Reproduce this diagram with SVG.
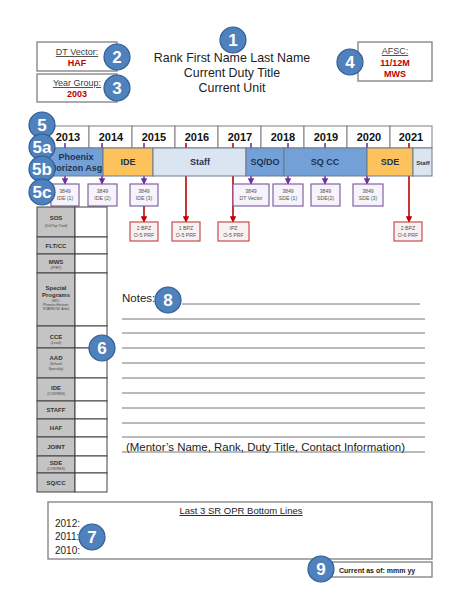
<svg xmlns="http://www.w3.org/2000/svg" width="474" height="613" viewBox="0 0 474 613">
<style>
.badge circle{fill:#4f81bd;stroke:#2f5d93;stroke-width:1.2}
.badge text{fill:#fff;font-family:"Liberation Sans",Arial,sans-serif;font-weight:bold;font-size:17px;text-anchor:middle}
.hdr{font-family:"Liberation Sans",Arial,sans-serif;fill:#222;font-size:12.4px;text-anchor:middle}
.ibox{fill:#fff;stroke:#7f7f7f;stroke-width:1.3}
.lbl{font-family:"Liberation Sans",Arial,sans-serif;fill:#404040;font-size:9px;text-anchor:middle;text-decoration:underline}
.val{font-family:"Liberation Sans",Arial,sans-serif;fill:#c00000;font-size:9px;font-weight:bold;text-anchor:middle}
.yr{font-family:"Liberation Sans",Arial,sans-serif;font-weight:bold;font-size:11px;fill:#111;text-anchor:middle}
.yrcell{fill:#fff;stroke:#7f7f7f;stroke-width:1}
.seg{stroke:#6b7b8c;stroke-width:1}
.segt{font-family:"Liberation Sans",Arial,sans-serif;font-weight:bold;font-size:9px;fill:#1f3350;text-anchor:middle}
.pbox{fill:#f6f3fa;stroke:#8064a2;stroke-width:1.2}
.rbox{fill:#faf0f0;stroke:#c0504d;stroke-width:1.2}
.bt{font-family:"Liberation Sans",Arial,sans-serif;font-size:5.2px;fill:#555;text-anchor:middle}
.pl{stroke:#7030a0;stroke-width:1.6;fill:none}
.rl{stroke:#c00000;stroke-width:1.6;fill:none}
.gc{fill:#c4c4c4;stroke:#404040;stroke-width:1}
.wc{fill:#fff;stroke:#404040;stroke-width:1}
.tl{font-family:"Liberation Sans",Arial,sans-serif;font-weight:bold;font-size:6px;fill:#333;text-anchor:middle}
.ts{font-family:"Liberation Sans",Arial,sans-serif;font-size:3.4px;fill:#444;text-anchor:middle}
.nl{stroke:#777;stroke-width:1}
.body{font-family:"Liberation Sans",Arial,sans-serif;fill:#222;font-size:11px}
</style>
<defs>
<marker id="ap" viewBox="0 0 10 10" refX="9" refY="5" markerWidth="4" markerHeight="4" orient="auto"><path d="M0,0 L10,5 L0,10 z" fill="#7030a0"/></marker>
<marker id="ar" viewBox="0 0 10 10" refX="9" refY="5" markerWidth="4" markerHeight="4" orient="auto"><path d="M0,0 L10,5 L0,10 z" fill="#c00000"/></marker>
</defs>
<rect width="474" height="613" fill="#fff"/>

<g id="header">
<text class="hdr" x="232" y="62">Rank First Name Last Name</text>
<text class="hdr" x="232" y="77">Current Duty Title</text>
<text class="hdr" x="232" y="92">Current Unit</text>
</g>

<g id="dt-vector">
<rect class="ibox" x="37" y="42" width="80" height="29"/>
<text class="lbl" x="77" y="55">DT Vector:</text>
<text class="val" x="77" y="66">HAF</text>
</g>
<g id="year-group">
<rect class="ibox" x="37" y="74" width="80" height="28"/>
<text class="lbl" x="77" y="86">Year Group:</text>
<text class="val" x="77" y="97">2003</text>
</g>
<g id="afsc">
<rect class="ibox" x="358" y="42" width="74" height="39"/>
<text class="lbl" x="395" y="54">AFSC:</text>
<text class="val" x="395" y="66">11/12M</text>
<text class="val" x="395" y="77">MWS</text>
</g>

<g id="years">
<rect class="yrcell" x="46" y="126" width="43" height="22"/>
<rect class="yrcell" x="89" y="126" width="43" height="22"/>
<rect class="yrcell" x="132" y="126" width="43" height="22"/>
<rect class="yrcell" x="175" y="126" width="43" height="22"/>
<rect class="yrcell" x="218" y="126" width="43" height="22"/>
<rect class="yrcell" x="261" y="126" width="43" height="22"/>
<rect class="yrcell" x="304" y="126" width="43" height="22"/>
<rect class="yrcell" x="347" y="126" width="43" height="22"/>
<rect class="yrcell" x="390" y="126" width="42" height="22"/>
<text class="yr" x="68" y="141">2013</text>
<text class="yr" x="111" y="141">2014</text>
<text class="yr" x="154" y="141">2015</text>
<text class="yr" x="197" y="141">2016</text>
<text class="yr" x="240" y="141">2017</text>
<text class="yr" x="283" y="141">2018</text>
<text class="yr" x="326" y="141">2019</text>
<text class="yr" x="369" y="141">2020</text>
<text class="yr" x="411" y="141">2021</text>
</g>

<g id="connectors">
<line class="pl" x1="65" y1="143" x2="65" y2="184" marker-end="url(#ap)"/>
<line class="pl" x1="102" y1="143" x2="102" y2="184" marker-end="url(#ap)"/>
<line class="pl" x1="144" y1="143" x2="144" y2="184" marker-end="url(#ap)"/>
<line class="pl" x1="251" y1="143" x2="251" y2="184" marker-end="url(#ap)"/>
<line class="pl" x1="288" y1="143" x2="288" y2="184" marker-end="url(#ap)"/>
<line class="pl" x1="325" y1="143" x2="325" y2="184" marker-end="url(#ap)"/>
<line class="pl" x1="367" y1="143" x2="367" y2="184" marker-end="url(#ap)"/>
<line class="rl" x1="144" y1="206" x2="144" y2="222" marker-end="url(#ar)"/>
<line class="rl" x1="186" y1="143" x2="186" y2="222" marker-end="url(#ar)"/>
<line class="rl" x1="233" y1="143" x2="233" y2="222" marker-end="url(#ar)"/>
<line class="rl" x1="409" y1="143" x2="409" y2="222" marker-end="url(#ar)"/>
</g>

<g id="assignments">
<rect class="seg" x="46" y="148" width="57" height="28" fill="#74a0d8"/>
<rect class="seg" x="103" y="148" width="50" height="28" fill="#fcc35c" stroke="#8a6d2f"/>
<rect class="seg" x="153" y="148" width="93" height="28" fill="#dbe5f2"/>
<rect class="seg" x="246" y="148" width="38" height="28" fill="#74a0d8"/>
<rect class="seg" x="284" y="148" width="83" height="28" fill="#74a0d8"/>
<rect class="seg" x="367" y="148" width="46" height="28" fill="#fcc35c" stroke="#8a6d2f"/>
<rect class="seg" x="413" y="148" width="19" height="28" fill="#dbe5f2"/>
<text class="segt" x="76" y="160">Phoenix</text>
<text class="segt" x="76" y="171">Horizon Asg</text>
<text class="segt" x="128" y="165">IDE</text>
<text class="segt" x="200" y="165">Staff</text>
<text class="segt" x="265" y="165">SQ/DO</text>
<text class="segt" x="325" y="165">SQ CC</text>
<text class="segt" x="390" y="165">SDE</text>
<text class="segt" x="423" y="164.5" style="font-size:6px">Staff</text>
</g>

<g id="milestones-3849">
<rect class="pbox" x="51" y="184" width="28" height="22"/><text class="bt" x="65" y="193">3849</text><text class="bt" x="65" y="200">IDE (1)</text>
<rect class="pbox" x="88" y="184" width="29" height="22"/><text class="bt" x="102.5" y="193">3849</text><text class="bt" x="102.5" y="200">IDE (2)</text>
<rect class="pbox" x="130" y="184" width="28" height="22"/><text class="bt" x="144" y="193">3849</text><text class="bt" x="144" y="200">IDE (3)</text>
<rect class="pbox" x="233" y="184" width="36" height="22"/><text class="bt" x="251" y="193">3849</text><text class="bt" x="251" y="200">DT Vector</text>
<rect class="pbox" x="273" y="184" width="30" height="22"/><text class="bt" x="288" y="193">3849</text><text class="bt" x="288" y="200">SDE (1)</text>
<rect class="pbox" x="311" y="184" width="29" height="22"/><text class="bt" x="325.5" y="193">3849</text><text class="bt" x="325.5" y="200">SDE(2)</text>
<rect class="pbox" x="353" y="184" width="30" height="22"/><text class="bt" x="368" y="193">3849</text><text class="bt" x="368" y="200">SDE (3)</text>
</g>

<g id="milestones-prf">
<rect class="rbox" x="130" y="222" width="28" height="19"/><text class="bt" x="144" y="230">2 BPZ</text><text class="bt" x="144" y="237">O-5 PRF</text>
<rect class="rbox" x="172" y="222" width="28" height="19"/><text class="bt" x="186" y="230">1 BPZ</text><text class="bt" x="186" y="237">O-5 PRF</text>
<rect class="rbox" x="218" y="222" width="31" height="19"/><text class="bt" x="233.5" y="230">IPZ</text><text class="bt" x="233.5" y="237">O-5 PRF</text>
<rect class="rbox" x="394" y="222" width="28" height="19"/><text class="bt" x="408" y="230">2 BPZ</text><text class="bt" x="408" y="237">O-6 PRF</text>
</g>

<g id="table">
<rect class="gc" x="37" y="207" width="38" height="30"/><rect class="wc" x="75" y="207" width="32" height="30"/>
<rect class="gc" x="37" y="237" width="38" height="17"/><rect class="wc" x="75" y="237" width="32" height="17"/>
<rect class="gc" x="37" y="254" width="38" height="19"/><rect class="wc" x="75" y="254" width="32" height="19"/>
<rect class="gc" x="37" y="273" width="38" height="53"/><rect class="wc" x="75" y="273" width="32" height="53"/>
<rect class="gc" x="37" y="326" width="38" height="22"/><rect class="wc" x="75" y="326" width="32" height="22"/>
<rect class="gc" x="37" y="348" width="38" height="30"/><rect class="wc" x="75" y="348" width="32" height="30"/>
<rect class="gc" x="37" y="378" width="38" height="23"/><rect class="wc" x="75" y="378" width="32" height="23"/>
<rect class="gc" x="37" y="401" width="38" height="18"/><rect class="wc" x="75" y="401" width="32" height="18"/>
<rect class="gc" x="37" y="419" width="38" height="18"/><rect class="wc" x="75" y="419" width="32" height="18"/>
<rect class="gc" x="37" y="437" width="38" height="19"/><rect class="wc" x="75" y="437" width="32" height="19"/>
<rect class="gc" x="37" y="456" width="38" height="17"/><rect class="wc" x="75" y="456" width="32" height="17"/>
<rect class="gc" x="37" y="473" width="38" height="19"/><rect class="wc" x="75" y="473" width="32" height="19"/>
<text class="tl" x="56" y="220">SOS</text><text class="ts" x="56" y="227">(DG/Top Third)</text>
<text class="tl" x="56" y="248">FLT/CC</text>
<text class="tl" x="56" y="264">MWS</text><text class="ts" x="56" y="269">(IP/EP)</text>
<text class="tl" x="56" y="290">Special</text><text class="tl" x="56" y="297">Programs</text>
<text class="ts" x="56" y="302">(WIC;</text><text class="ts" x="56" y="306">Phoenix Horizon;</text><text class="ts" x="56" y="310">STARNOM; Aide)</text>
<text class="tl" x="56" y="339">CCE</text><text class="ts" x="56" y="344">(Level)</text>
<text class="tl" x="56" y="360">AAD</text><text class="ts" x="56" y="365">(School/</text><text class="ts" x="56" y="369.5">Specialty)</text>
<text class="tl" x="56" y="390">IDE</text><text class="ts" x="56" y="395">(COR/RES)</text>
<text class="tl" x="56" y="412">STAFF</text>
<text class="tl" x="56" y="430">HAF</text>
<text class="tl" x="56" y="448.5">JOINT</text>
<text class="tl" x="56" y="465">SDE</text><text class="ts" x="56" y="469.5">(COR/RES)</text>
<text class="tl" x="56" y="484.5">SQ/CC</text>
</g>

<g id="notes">
<text class="body" x="122" y="302" style="font-size:11.5px">Notes:</text>
<line class="nl" x1="182" y1="304" x2="420" y2="304"/>
<line class="nl" x1="122" y1="319" x2="425" y2="319"/>
<line class="nl" x1="122" y1="333" x2="425" y2="333"/>
<line class="nl" x1="122" y1="348" x2="425" y2="348"/>
<line class="nl" x1="122" y1="363" x2="425" y2="363"/>
<line class="nl" x1="122" y1="378" x2="425" y2="378"/>
<line class="nl" x1="122" y1="393" x2="425" y2="393"/>
<line class="nl" x1="122" y1="408" x2="425" y2="408"/>
<line class="nl" x1="122" y1="423" x2="425" y2="423"/>
<line class="nl" x1="122" y1="437" x2="425" y2="437"/>
<line class="nl" x1="122" y1="452" x2="425" y2="452"/>
<text class="body" x="126" y="451" textLength="279" lengthAdjust="spacingAndGlyphs">(Mentor’s Name, Rank, Duty Title, Contact Information)</text>
</g>

<g id="opr">
<rect class="ibox" x="48" y="502" width="384" height="57"/>
<text class="body" x="241" y="514" text-anchor="middle" style="font-size:9.5px;text-decoration:underline">Last 3 SR OPR Bottom Lines</text>
<text class="body" x="55" y="527" style="font-size:10px">2012:</text>
<text class="body" x="55" y="540" style="font-size:10px">2011:</text>
<text class="body" x="55" y="554" style="font-size:10px">2010:</text>
</g>
<g id="current">
<rect class="ibox" x="332" y="562" width="100" height="15"/>
<text x="339" y="572.5" style="font-family:'Liberation Sans',Arial,sans-serif;font-weight:bold;font-size:7px;fill:#222">Current as of: mmm yy</text>
</g>

<g id="badges" class="badge">
<g id="b1"><circle cx="233" cy="40" r="13"/><text x="233" y="46">1</text></g>
<g id="b2"><circle cx="117" cy="57" r="13"/><text x="117" y="63">2</text></g>
<g id="b3"><circle cx="117" cy="88" r="13"/><text x="117" y="94">3</text></g>
<g id="b4"><circle cx="350" cy="62" r="13"/><text x="350" y="68">4</text></g>
<g id="b5"><circle cx="42" cy="125" r="13"/><text x="42" y="131">5</text></g>
<g id="b5a"><circle cx="42" cy="147" r="13"/><text x="42" y="153">5a</text></g>
<g id="b5b"><circle cx="42" cy="169" r="13"/><text x="42" y="175">5b</text></g>
<g id="b5c"><circle cx="42" cy="192" r="13"/><text x="42" y="198">5c</text></g>
<g id="b6"><circle cx="102" cy="348" r="13"/><text x="102" y="354">6</text></g>
<g id="b7"><circle cx="92" cy="537" r="13"/><text x="92" y="543">7</text></g>
<g id="b8"><circle cx="168" cy="300" r="13"/><text x="168" y="306">8</text></g>
<g id="b9"><circle cx="321" cy="569" r="13"/><text x="321" y="575">9</text></g>
</g>
</svg>
